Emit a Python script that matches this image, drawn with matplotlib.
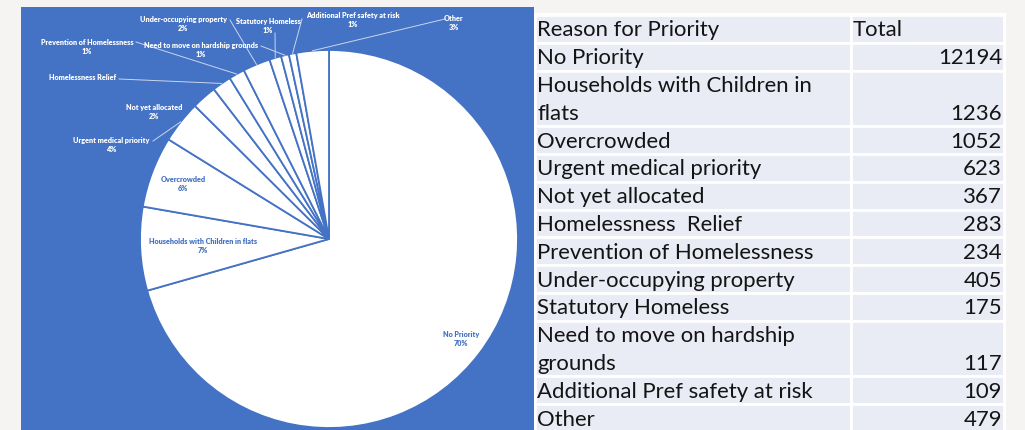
import matplotlib.pyplot as plt
from matplotlib.patches import Rectangle
import numpy as np

# Housing register by reason for priority
reasons = ['No Priority', 'Households with Children in flats', 'Overcrowded',
           'Urgent medical priority', 'Not yet allocated', 'Homelessness Relief',
           'Prevention of Homelessness', 'Under-occupying property',
           'Statutory Homeless', 'Need to move on hardship grounds',
           'Additional Pref safety at risk', 'Other']
totals = [12194, 1236, 1052, 623, 367, 283, 234, 405, 175, 117, 109, 479]
pct_labels = ['70%', '7%', '6%', '4%', '2%', '', '1%', '2%', '1%', '1%', '1%', '3%']

# table text, wrapped the way the sheet shows it
table_rows = ['No Priority', 'Households with Children in\nflats', 'Overcrowded',
              'Urgent medical priority', 'Not yet allocated', 'Homelessness  Relief',
              'Prevention of Homelessness', 'Under-occupying property',
              'Statutory Homeless', 'Need to move on hardship\ngrounds',
              'Additional Pref safety at risk', 'Other']

BLUE = '#4472c4'
W, H = 1025, 430

fig = plt.figure(figsize=(W / 100, H / 100), dpi=100)
fig.patch.set_facecolor('#f5f4f2')
ax = fig.add_axes([0, 0, 1, 1])


def Y(y):
    # pixel rows count from the top
    return H - y


# chart area
ax.add_patch(Rectangle((21, Y(430)), 513, 423, facecolor=BLUE, edgecolor='none', zorder=0))

cx, cy, R = 329, 239, 189
wedges, _ = ax.pie(totals, startangle=90, counterclock=False,
                   center=(cx, Y(cy)), radius=R,
                   wedgeprops=dict(facecolor='white', edgecolor=BLUE, linewidth=1.3))

# label centre, leader start (None = no leader), text colour
label_pos = [
    ((461, 339), None, BLUE),
    ((203, 246), None, BLUE),
    ((183, 184), None, BLUE),
    ((111, 145), (153, 141), 'white'),
    ((154, 112), None, 'white'),
    ((83, 77), (119, 79), 'white'),
    ((87, 47), (136, 42), 'white'),
    ((183, 24), (230, 20), 'white'),
    ((268, 26), (275, 33), 'white'),
    ((201, 50), (261, 46), 'white'),
    ((353, 20), (302, 19), 'white'),
    ((454, 23), (445, 19), 'white'),
]

for w, name, pct, (pos, start, col) in zip(wedges, reasons, pct_labels, label_pos):
    txt = name if not pct else name + '\n' + pct
    ax.text(pos[0], Y(pos[1]), txt, ha='center', va='center', fontsize=5.2,
            fontweight='heavy', family='Lato', color=col, linespacing=1.45, zorder=5)
    if start is not None:
        mid = np.deg2rad((w.theta1 + w.theta2) / 2)
        ex, ey = cx + R * np.cos(mid), cy - R * np.sin(mid)
        ax.plot([start[0], ex], [Y(start[1]), Y(ey)], color='#c9d5ee',
                linewidth=0.7, zorder=4)

# table
tx0, tx1, tx2 = 535, 851, 1004
row_h = 27.8
top = 15
ax.add_patch(Rectangle((tx0 - 1, Y(430)), tx2 - tx0 + 3, 430 - top + 2,
                       facecolor='white', edgecolor='none', zorder=0))

font_tab = dict(fontsize=15.9, family='Lato', color='#141414', zorder=2)
rows = [('Reason for Priority', 'Total')] + list(zip(table_rows, [str(t) for t in totals]))
y = top
for i, (label, val) in enumerate(rows):
    n = label.count('\n') + 1
    h = n * row_h
    for x0, x1 in [(tx0, tx1), (tx1, tx2)]:
        ax.add_patch(Rectangle((x0, Y(y + h)), x1 - x0, h, facecolor='#e9ebf5',
                               edgecolor='white', linewidth=2, zorder=1))
    for k, line in enumerate(label.split('\n')):
        ax.text(tx0 + 2, Y(y + (k + 0.5) * row_h + 1.5), line, ha='left', va='center',
                **font_tab)
    if i == 0:
        ax.text(tx1 + 2, Y(y + 0.5 * row_h + 1.5), val, ha='left', va='center', **font_tab)
    else:
        ax.text(tx2 - 2, Y(y + (n - 0.5) * row_h + 1.5), val, ha='right', va='center',
                **font_tab)
    y += h

ax.set_xlim(0, W)
ax.set_ylim(0, H)
ax.set_aspect('auto')
ax.axis('off')

fig.savefig('out.png', dpi=100, facecolor=fig.get_facecolor())
